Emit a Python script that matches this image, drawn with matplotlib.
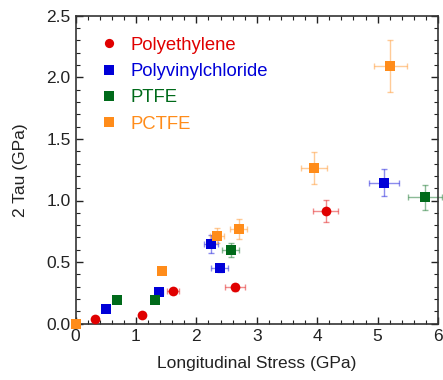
import matplotlib
matplotlib.use("Agg")
import matplotlib.pyplot as plt
from matplotlib.ticker import MultipleLocator

plt.rcParams['font.family'] = ['Liberation Sans', 'DejaVu Sans']

# Polyethylene
pe_x = [0.32, 1.10, 1.62, 2.64, 4.14]
pe_y = [0.04, 0.07, 0.265, 0.295, 0.915]
pe_xe = [0.03, 0.04, 0.10, 0.17, 0.21]
pe_ye = [0.01, 0.01, 0.02, 0.03, 0.09]

# Polyvinylchloride
pvc_x = [0.505, 1.39, 2.24, 2.39, 5.10]
pvc_y = [0.12, 0.257, 0.646, 0.449, 1.145]
pvc_xe = [0.03, 0.05, 0.12, 0.14, 0.25]
pvc_ye = [0.01, 0.02, 0.07, 0.03, 0.11]

# PTFE
ptfe_x = [0.68, 1.32, 2.57, 5.78]
ptfe_y = [0.195, 0.195, 0.598, 1.025]
ptfe_xe = [0.03, 0.05, 0.14, 0.28]
ptfe_ye = [0.01, 0.02, 0.06, 0.10]

# PCTFE
pctfe_x = [0.0, 1.43, 2.34, 2.70, 3.95, 5.21]
pctfe_y = [0.0, 0.43, 0.714, 0.766, 1.265, 2.09]
pctfe_xe = [0.0, 0.05, 0.12, 0.14, 0.21, 0.27]
pctfe_ye = [0.0, 0.03, 0.06, 0.08, 0.13, 0.21]

series = [
    ("Polyethylene", pe_x, pe_y, pe_xe, pe_ye, "#e00000", "o", 7),
    ("Polyvinylchloride", pvc_x, pvc_y, pvc_xe, pvc_ye, "#0000d8", "s", 7),
    ("PTFE", ptfe_x, ptfe_y, ptfe_xe, ptfe_ye, "#006a1a", "s", 7),
    ("PCTFE", pctfe_x, pctfe_y, pctfe_xe, pctfe_ye, "#ff8c1a", "s", 7),
]

fig = plt.figure(figsize=(4.43, 3.80), dpi=100)
ax = fig.add_axes([75.5/443, (380-323.7)/380, (438-75.5)/443, (323.7-15.7)/380])

for name, x, y, xe, ye, c, m, ms in series:
    ax.errorbar(x, y, xerr=xe, yerr=ye, fmt='none', ecolor=c, alpha=0.45,
                elinewidth=1, capsize=2, capthick=1, clip_on=False, zorder=2)
    ax.plot(x, y, linestyle='none', marker=m, color=c, markersize=ms,
            markeredgewidth=0, label=name, clip_on=False, zorder=3)

ax.set_xlim(0, 6)
ax.set_ylim(0, 2.5)
ax.xaxis.set_major_locator(MultipleLocator(1))
ax.xaxis.set_minor_locator(MultipleLocator(0.2))
ax.yaxis.set_major_locator(MultipleLocator(0.5))
ax.yaxis.set_minor_locator(MultipleLocator(0.1))
ax.yaxis.set_major_formatter(matplotlib.ticker.FormatStrFormatter('%.1f'))
ax.tick_params(which='both', direction='in', top=True, right=True, labelsize=12.5,
               colors='#222222')
ax.tick_params(which='major', length=5, width=1)
ax.tick_params(which='minor', length=3, width=0.8)
for s in ax.spines.values():
    s.set_linewidth(1.2)
    s.set_color('#333333')

ax.set_xlabel("Longitudinal Stress (GPa)", fontsize=12.5, color='#222222', labelpad=9)
ax.set_ylabel("2 Tau (GPa)", fontsize=12.5, color='#222222', labelpad=13)

leg = ax.legend(loc='upper left', bbox_to_anchor=(0.028, 0.985), frameon=False,
                fontsize=13.3, handlelength=0.7, handletextpad=0.85, labelspacing=0.5,
                labelcolor='linecolor', markerscale=0.95)

fig.savefig("out.png", dpi=100)
